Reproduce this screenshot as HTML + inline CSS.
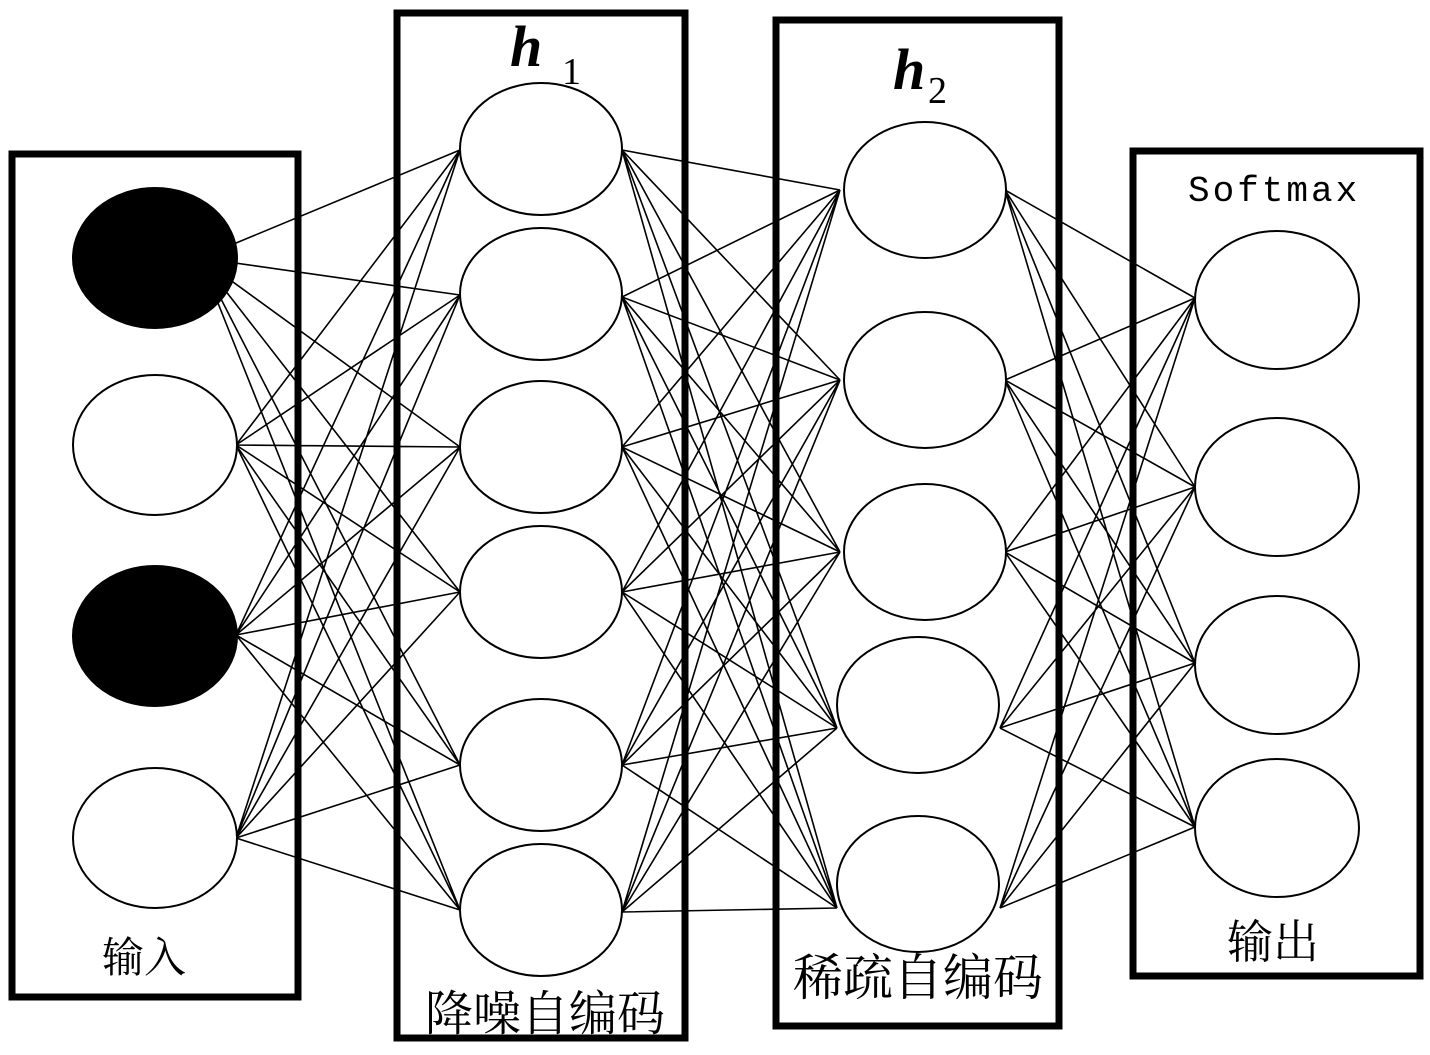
<!DOCTYPE html>
<html><head><meta charset="utf-8"><style>
html,body{margin:0;padding:0;background:#fff;}
svg{display:block;}
</style></head><body>
<svg width="1430" height="1055" viewBox="0 0 1430 1055" xmlns="http://www.w3.org/2000/svg">
<path stroke="#000" stroke-width="1.6" fill="none" d="
M200 258L460 150M200 258L460 295M200 258L460 447M200 258L460 592M200 258L460 765M200 258L460 910
M236 445L460 150M236 445L460 295M236 445L460 447M236 445L460 592M236 445L460 765M236 445L460 910
M236 635L460 150M236 635L460 295M236 635L460 447M236 635L460 592M236 635L460 765M236 635L460 910
M236 838L460 150M236 838L460 295M236 838L460 447M236 838L460 592M236 838L460 765M236 838L460 910
M622 150L840 190M622 150L840 380M622 150L840 552M622 150L837 728M622 150L837 908
M622 297L840 190M622 297L840 380M622 297L840 552M622 297L837 728M622 297L837 908
M622 447L840 190M622 447L840 380M622 447L840 552M622 447L837 728M622 447L837 908
M622 592L840 190M622 592L840 380M622 592L840 552M622 592L837 728M622 592L837 908
M622 765L840 190M622 765L840 380M622 765L840 552M622 765L837 728M622 765L837 908
M622 912L840 190M622 912L840 380M622 912L840 552M622 912L837 728M622 912L837 908
M1005 190L1195 298M1005 190L1195 487M1005 190L1195 663M1005 190L1195 827
M1005 380L1195 298M1005 380L1195 487M1005 380L1195 663M1005 380L1195 827
M1005 552L1195 298M1005 552L1195 487M1005 552L1195 663M1005 552L1195 827
M1000 728L1195 298M1000 728L1195 487M1000 728L1195 663M1000 728L1195 827
M1000 908L1195 298M1000 908L1195 487M1000 908L1195 663M1000 908L1195 827"/>
<g stroke="#000" stroke-width="2" fill="#fff">
<ellipse cx="155" cy="258" rx="82" ry="70" fill="#000"/>
<ellipse cx="155" cy="445" rx="82" ry="70"/>
<ellipse cx="155" cy="636" rx="82" ry="70" fill="#000"/>
<ellipse cx="155" cy="838" rx="82" ry="70"/>
<ellipse cx="541" cy="149" rx="81" ry="66"/>
<ellipse cx="541" cy="294" rx="81" ry="66"/>
<ellipse cx="541" cy="447" rx="81" ry="66"/>
<ellipse cx="541" cy="592" rx="81" ry="66"/>
<ellipse cx="541" cy="765" rx="81" ry="66"/>
<ellipse cx="541" cy="910" rx="81" ry="66"/>
<ellipse cx="925" cy="190" rx="81" ry="68"/>
<ellipse cx="925" cy="380" rx="81" ry="68"/>
<ellipse cx="925" cy="552" rx="81" ry="68"/>
<ellipse cx="918" cy="705" rx="81" ry="68"/>
<ellipse cx="918" cy="884" rx="81" ry="68"/>
<ellipse cx="1277" cy="300" rx="82" ry="69"/>
<ellipse cx="1277" cy="487" rx="82" ry="69"/>
<ellipse cx="1277" cy="665" rx="82" ry="69"/>
<ellipse cx="1277" cy="828" rx="82" ry="69"/>
</g>
<g stroke="#000" stroke-width="7" fill="none">
<rect x="12" y="154" width="286" height="843"/>
<rect x="397" y="13" width="288" height="1025"/>
<rect x="776" y="20" width="283" height="1006"/>
<rect x="1133" y="151" width="287" height="825"/>
</g>
<g font-family="'Liberation Serif','Noto Serif CJK SC',serif" fill="#000">
<text x="510" y="66" font-size="58" font-style="italic" font-weight="bold">h</text>
<text x="562" y="84" font-size="38">1</text>
<text x="893" y="89" font-size="58" font-style="italic" font-weight="bold">h</text>
<text x="928" y="103" font-size="38">2</text>
<text x="1188" y="201" font-size="36" letter-spacing="3" font-family="'Liberation Mono',monospace">Softmax</text>
<text x="102" y="972" font-size="42">输入</text>
<text x="425" y="1030" font-size="48">降噪自编码</text>
<text x="793" y="995" font-size="50">稀疏自编码</text>
<text x="1227" y="958" font-size="46">输出</text>
</g>
</svg>
</body></html>
